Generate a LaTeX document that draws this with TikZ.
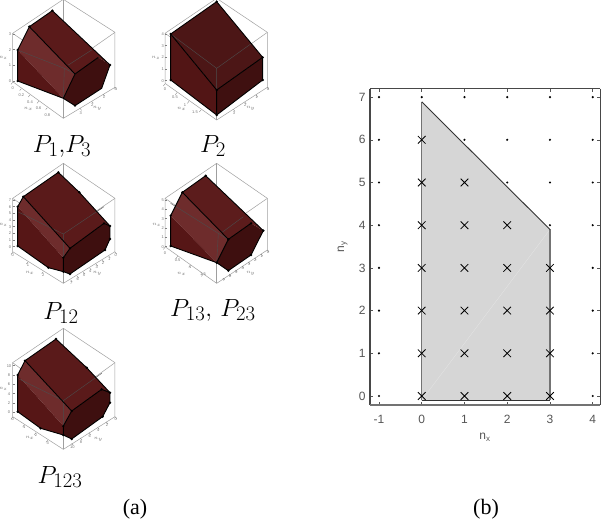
\documentclass[tikz,border=0pt]{standalone}
\usepackage[no-math]{fontspec}
\usepackage{amsmath,amssymb}
\usepackage{xcolor}
\usetikzlibrary{shapes.misc}
\newfontfamily\plotfont{Liberation Sans}
\newfontfamily\capfont{Liberation Serif}
\definecolor{topface}{HTML}{5A1A1A}
\definecolor{lightface}{HTML}{6E2C2C}
\definecolor{leftface}{HTML}{561616}
\definecolor{rightface}{HTML}{3E0F0F}
\definecolor{plotgray}{HTML}{555555}
\definecolor{polyfill}{HTML}{D6D6D6}

\begin{document}
\begin{tikzpicture}[
  x=1pt, y=-1pt,
  wire/.style={draw=gray!75, line width=0.5pt},
  inner/.style={draw=black!70, line width=0.4pt},
  edge/.style={draw=black, line width=0.9pt, line join=round},
  boxtick/.style={draw=gray, line width=0.35pt},
  ticklab/.style={font=\fontsize{4}{4.5}\selectfont\plotfont, text=gray!90!black, inner sep=0pt},
  plab/.style={font=\Huge, inner sep=0pt},
  caplab/.style={font=\fontsize{22}{24}\selectfont\capfont, inner sep=0pt},
  plotlab/.style={font=\fontsize{12}{14}\selectfont\plotfont, text=plotgray, inner sep=0pt},
  dotmark/.style={circle, fill=black, inner sep=0pt, minimum size=2.4pt},
  crossmark/.style={cross out, draw=black, line width=0.8pt, inner sep=0pt, minimum size=6.8pt},
  frameline/.style={draw=black!72, line width=1.1pt},
  sideline/.style={draw=black!55, line width=1.4pt},
  rimline/.style={draw=black!80, line width=0.9pt},
  plottick/.style={draw=plotgray, line width=0.6pt},
]
\useasboundingbox (0,0) rectangle (602,527);

% P1,P3
\begin{scope}[shift={(0,0)}, scale=1/3, name prefix=a-]
  \draw[wire] (190,-2) -- (345,97) -- (345,262) -- (190,355) -- (38,245) -- (38,100) -- cycle;
  \draw[wire] (190,205) -- (38,100) (190,205) -- (345,97);
  \draw[wire, line width=1pt] (190,-2) -- (190,355);
  \fill[topface] (157,32) -- (88,80) -- (225,222) -- (295,172) -- (330,195) -- cycle;
  \fill[lightface] (88,80) -- (53,150) -- (190,295) -- (225,222) -- cycle;
  \fill[leftface] (53,150) -- (53,243) -- (190,295) -- cycle;
  \fill[rightface] (225,222) -- (295,172) -- (330,195) -- (305,265) -- (225,317) -- (190,295) -- cycle;
  \draw[inner] (53,150) -- (193,205) -- (190,295) (193,205) -- (225,222) (205,195) -- (275,150);
  \draw[edge] (157,32) -- (88,80) -- (53,150) -- (53,243) -- (190,295) -- (225,317) -- (305,265) -- (330,195) -- cycle;
  \draw[edge] (88,80) -- (225,222) -- (295,172) (225,222) -- (190,295);
  \foreach \p in {(157,32),(88,80),(53,150),(53,243),(225,317),(330,195)} \fill \p circle[radius=4];
  \foreach \t [count=\i from 0] in {0,1,2,3} {
    \node[ticklab] (z\i) at (30,243-47*\i) {\t};
    \draw[boxtick] (38,243-47*\i) -- ++(6,0);
  }
  \foreach \t [count=\i from 0] in {0,0.2,0.4,0.6,0.8} {
    \node[ticklab] (l\i) at (38+26*\i,265+20*\i) {\t};
    \draw[boxtick] (38+26*\i,247+19*\i) -- ++(-5,6);
  }
  \foreach \t [count=\i from 0] in {0,1,2,3} {
    \node[ticklab] (r\i) at (347-35*\i,268+24*\i) {\t};
    \draw[boxtick] (345-35*\i,262+21*\i) -- ++(5,6);
  }
  \node[ticklab] (zl) at (10,175) {$n_z$};
  \node[ticklab] (ll) at (85,328) {$n_x$};
  \node[ticklab] (rl) at (292,325) {$n_y$};
\end{scope}
\node[plab] (p13a) at (62,146) {$P_1{,}P_3$};

% P2
\begin{scope}[shift={(160,0)}, scale=1/3, name prefix=b-]
  \draw[wire] (170,-5) -- (322,97) -- (322,262) -- (170,360) -- (15,250) -- (15,100) -- cycle;
  \draw[wire] (170,205) -- (15,100) (170,205) -- (322,97);
  \draw[wire, line width=1pt] (170,-5) -- (170,360);
  \fill[topface!85!black] (170,5) -- (32,102) -- (170,270) -- (308,172) -- cycle;
  \fill[leftface!95!black] (32,102) -- (32,240) -- (170,345) -- (170,270) -- cycle;
  \fill[rightface!95!topface] (170,270) -- (308,172) -- (308,240) -- (170,345) -- cycle;
  \draw[inner] (32,102) -- (170,205) -- (170,270) (170,205) -- (275,130);
  \draw[edge] (170,5) -- (32,102) -- (32,240) -- (170,345) -- (308,240) -- (308,172) -- cycle;
  \draw[edge] (32,102) -- (170,270) -- (308,172) (170,270) -- (170,345);
  \foreach \p in {(170,5),(32,102),(32,240),(170,345),(170,270),(308,172),(308,240)} \fill \p circle[radius=4];
  \foreach \t [count=\i from 0] in {0,1,2,3,4} {
    \node[ticklab] (z\i) at (8,242-35*\i) {\t};
    \draw[boxtick] (15,242-35*\i) -- ++(6,0);
  }
  \foreach \t [count=\i from 0] in {0,0.5,1,1.5} {
    \node[ticklab] (l\i) at (15+30*\i,268+23*\i) {\t};
    \draw[boxtick] (15+36*\i,252+26*\i) -- ++(-5,6);
  }
  \foreach \t [count=\i from 0] in {0,1,2,3} {
    \node[ticklab] (r\i) at (324-34*\i,266+24*\i) {\t};
    \draw[boxtick] (322-34*\i,262+22*\i) -- ++(5,6);
  }
  \node[ticklab] (zl) at (-12,175) {$n_z$};
  \node[ticklab] (ll) at (65,328) {$n_x$};
  \node[ticklab] (rl) at (272,325) {$n_y$};
\end{scope}
\node[plab] (p2) at (213,146) {$P_2$};

% P12
\begin{scope}[shift={(0,160)}, scale=1/3, name prefix=c-]
  \draw[wire] (190,10) -- (345,115) -- (345,275) -- (190,370) -- (38,275) -- (38,115) -- cycle;
  \draw[wire] (190,220) -- (38,115) (190,220) -- (345,115);
  \draw[wire, line width=1pt] (190,10) -- (190,370);
  \fill[topface] (175,37) -- (70,110) -- (210,265) -- (312,190) -- (330,198) -- (238,97) -- cycle;
  \fill[lightface] (70,110) -- (53,140) -- (190,293) -- (210,265) -- cycle;
  \fill[leftface] (53,140) -- (53,258) -- (145,323) -- (190,335) -- (190,293) -- cycle;
  \fill[rightface] (190,293) -- (210,265) -- (312,190) -- (330,198) -- (330,237) -- (315,270) -- (210,342) -- (190,335) -- cycle;
  \draw[inner] (53,155) -- (190,222) -- (312,140) (190,222) -- (190,293);
  \draw[edge] (175,37) -- (70,110) -- (53,140) -- (53,258) -- (145,323) -- (190,335) -- (210,342) -- (315,270) -- (330,237) -- (330,198) -- (238,97) -- cycle;
  \draw[edge] (70,110) -- (210,265) -- (312,190) -- (330,198) (210,265) -- (190,293) -- (190,335);
  \foreach \p in {(175,37),(70,110),(53,140),(53,258),(145,323),(190,335),(210,342),(315,270),(330,237),(330,198),(312,190),(210,265),(190,293),(238,97)} \fill \p circle[radius=4];
  \foreach \t [count=\i from 0] in {0,1,2,3,4,5,6,7} {
    \node[ticklab] (z\i) at (30,260-20*\i) {\t};
    \draw[boxtick] (38,260-20*\i) -- ++(6,0);
  }
  \foreach \t [count=\i from 0] in {0,1,2} {
    \node[ticklab] (l\i) at (38+46*\i,285+30*\i) {\t};
    \draw[boxtick] (38+46*\i,277+29*\i) -- ++(-5,6);
  }
  \foreach \t [count=\i from 0] in {0,1,2,3,4,5,6,7} {
    \node[ticklab] (r\i) at (347-19*\i,285+12*\i) {\t};
    \draw[boxtick] (345-19*\i,276+12*\i) -- ++(5,6);
  }
  \node[ticklab] (zl) at (10,195) {$n_z$};
  \node[ticklab] (ll) at (90,340) {$n_x$};
  \node[ticklab] (rl) at (292,340) {$n_y$};
\end{scope}
\node[plab] (p12) at (61,313) {$P_{12}$};

% P13, P23
\begin{scope}[shift={(160,160)}, scale=1/3, name prefix=d-]
  \draw[wire] (170,10) -- (322,115) -- (322,270) -- (170,370) -- (15,260) -- (15,115) -- cycle;
  \draw[wire] (170,220) -- (15,115) (170,220) -- (322,115);
  \draw[wire, line width=1pt] (170,10) -- (170,370);
  \fill[topface!90!lightface] (137,47) -- (67,97) -- (205,238) -- (273,190) -- (310,212) -- cycle;
  \fill[lightface] (67,97) -- (32,167) -- (170,308) -- (205,238) -- cycle;
  \fill[leftface] (32,167) -- (32,258) -- (170,308) -- cycle;
  \fill[rightface] (205,238) -- (273,190) -- (310,212) -- (273,285) -- (205,332) -- (170,308) -- cycle;
  \draw[inner] (32,130) -- (175,220) -- (170,308) (175,220) -- (205,238) (185,218) -- (250,170);
  \draw[edge] (137,47) -- (67,97) -- (32,167) -- (32,258) -- (170,308) -- (205,332) -- (273,285) -- (310,212) -- cycle;
  \draw[edge] (67,97) -- (205,238) -- (273,190) (205,238) -- (170,308);
  \foreach \p in {(137,47),(67,97),(32,167),(32,258),(170,308),(205,332),(273,285),(310,212),(273,190),(205,238)} \fill \p circle[radius=4];
  \foreach \t [count=\i from 0] in {0,1,2,3,4,5} {
    \node[ticklab] (z\i) at (8,260-28*\i) {\t};
    \draw[boxtick] (15,260-28*\i) -- ++(6,0);
  }
  \foreach \t [count=\i from 0] in {0,0.5,1,1.5} {
    \node[ticklab] (l\i) at (15+38*\i,280+21*\i) {\t};
    \draw[boxtick] (15+38*\i,262+27*\i) -- ++(-5,6);
  }
  \foreach \t [count=\i from 0] in {0,1,2,3,4,5,6,7} {
    \node[ticklab] (r\i) at (324-19*\i,275+12*\i) {\t};
    \draw[boxtick] (322-19*\i,270+12*\i) -- ++(5,6);
  }
  \node[ticklab] (zl) at (-10,195) {$n_z$};
  \node[ticklab] (ll) at (65,342) {$n_x$};
  \node[ticklab] (rl) at (272,340) {$n_y$};
\end{scope}
\node[plab] (p1323) at (213,310) {$P_{13},\,P_{23}$};

% P123
\begin{scope}[shift={(0,320)}, scale=1/3, name prefix=e-]
  \draw[wire] (190,25) -- (345,128) -- (345,290) -- (190,388) -- (38,290) -- (38,128) -- cycle;
  \draw[wire] (190,240) -- (38,128) (190,240) -- (345,128);
  \draw[wire, line width=1pt] (190,25) -- (190,388);
  \fill[topface] (168,57) -- (75,122) -- (215,273) -- (305,208) -- (330,218) -- (260,143) -- cycle;
  \fill[lightface] (75,122) -- (53,165) -- (190,318) -- (215,273) -- cycle;
  \fill[leftface] (53,165) -- (53,275) -- (122,325) -- (190,345) -- (190,318) -- cycle;
  \fill[rightface] (190,318) -- (215,273) -- (305,208) -- (330,218) -- (330,248) -- (308,290) -- (215,357) -- (190,345) -- cycle;
  \draw[inner] (53,175) -- (190,242) -- (305,160) (190,242) -- (190,318);
  \draw[edge] (168,57) -- (75,122) -- (53,165) -- (53,275) -- (122,325) -- (190,345) -- (215,357) -- (308,290) -- (330,248) -- (330,218) -- (260,143) -- cycle;
  \draw[edge] (75,122) -- (215,273) -- (305,208) -- (330,218) (215,273) -- (190,318) -- (190,345);
  \foreach \p in {(168,57),(75,122),(53,165),(53,275),(122,325),(190,345),(215,357),(308,290),(330,248),(330,218),(305,208),(215,273),(190,318),(260,143)} \fill \p circle[radius=4];
  \foreach \t [count=\i from 0] in {0,2,4,6,8,10} {
    \node[ticklab] (z\i) at (27,277-28*\i) {\t};
    \draw[boxtick] (38,277-28*\i) -- ++(6,0);
  }
  \foreach \t [count=\i from 0] in {0,1,2,3} {
    \node[ticklab] (l\i) at (38+35*\i,298+24*\i) {\t};
    \draw[boxtick] (38+35*\i,292+23*\i) -- ++(-5,6);
  }
  \foreach \t [count=\i from 0] in {0,2,4,6,8,10} {
    \node[ticklab] (r\i) at (347-26*\i,297+17*\i) {\t};
    \draw[boxtick] (345-26*\i,290+16*\i) -- ++(5,6);
  }
  \node[ticklab] (zl) at (10,208) {$n_z$};
  \node[ticklab] (ll) at (90,355) {$n_x$};
  \node[ticklab] (rl) at (295,358) {$n_y$};
\end{scope}
\node[plab] (p123) at (60,477) {$P_{123}$};

\node[caplab] (capa) at (135,509) {(a)};
\node[caplab] (capb) at (486,509) {(b)};

% lattice plot
\begin{scope}[shift={(421.7,396)}, x=42.75pt, y=42.7pt]
  \fill[polyfill] (0,-0.1) -- (0,6.89) -- (3,3.9) -- (3,-0.1) -- cycle;
  \draw[white!90!black, line width=0.3pt] (0,-0.1) -- (3,3.9);
  \draw[sideline] (0,-0.1) -- (0,6.89);
  \draw[sideline] (3,-0.1) -- (3,3.9);
  \draw[rimline] (0,6.89) -- (3,3.9);
  \draw[rimline] (0,-0.1) -- (3,-0.1);
  \foreach \x in {-1,...,4} {
    \draw[plottick] (\x,-0.21) -- ++(0,3pt);
    \draw[plottick] (\x,7.2) -- ++(0,-3pt);
    \node[plotlab] (xt\x) at (\x,-0.54) {\x};
  }
  \foreach \y in {0,...,7} {
    \draw[plottick] (-1.21,\y) -- ++(3pt,0);
    \draw[plottick] (4.18,\y) -- ++(-3pt,0);
    \node[plotlab] (yt\y) at (-1.39,\y) {\y};
  }
  \draw[frameline] (-1.21,7.2) -- (-1.21,-0.21);
  \draw[frameline] (-1.21,7.2) -- (4.18,7.2);
  \draw[frameline, draw=black!55] (-1.21,-0.21) -- (4.18,-0.21);
  \draw[frameline] (4.18,7.2) -- (4.18,-0.21);
  \foreach \y in {0,...,7} {
    \node[dotmark] (dl\y) at (-1,\y) {};
    \node[dotmark] (dr\y) at (4,\y) {};
  }
  \foreach \x/\ylow in {0/7,1/6,2/5,3/4}
    \foreach \y in {\ylow,...,7}
      \node[dotmark] (d\x\y) at (\x,\y) {};
  \foreach \x/\yhigh in {0/6,1/5,2/4,3/3}
    \foreach \y in {0,...,\yhigh}
      \node[crossmark] (c\x\y) at (\x,\y) {};
  \node[plotlab] (xname) at (1.48,-0.97) {n\textsubscript{x}};
  \node[plotlab, rotate=90] (yname) at (-1.85,3.5) {n\textsubscript{y}};
\end{scope}
\end{tikzpicture}
\end{document}
